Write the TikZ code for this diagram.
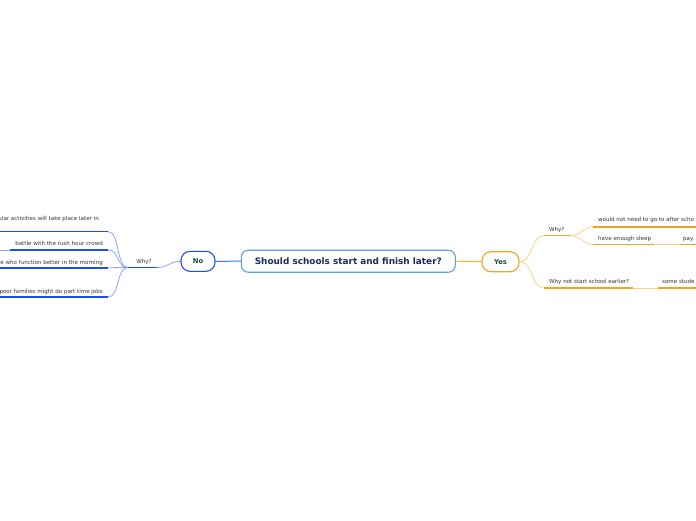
\documentclass[tikz,border=0pt]{standalone}
\usepackage{fontspec}
\setmainfont{DejaVu Sans}
\definecolor{cbord}{HTML}{5AA0E0}
\definecolor{navy}{HTML}{1C2A5A}
\definecolor{dgreen}{HTML}{1B4D3E}
\definecolor{bdark}{HTML}{1A4FE8}
\definecolor{blight}{HTML}{8AA6FF}
\definecolor{odark}{HTML}{F7A21B}
\definecolor{olight}{HTML}{FFD08A}
\definecolor{txt}{HTML}{333333}
\begin{document}
\begin{tikzpicture}[x=1pt,y=-1pt,
  mainbox/.style={draw=cbord, line width=1.1pt, rounded corners=7pt, fill=white,
    font=\fontsize{8.9}{10}\selectfont\bfseries, text=navy, minimum width=214pt, minimum height=22pt, inner sep=0pt},
  nobox/.style={draw=bdark, line width=1.1pt, rounded corners=9pt, fill=white,
    font=\fontsize{6.8}{8}\selectfont\bfseries, text=dgreen, minimum width=34pt, minimum height=20pt, inner sep=0pt},
  yesbox/.style={draw=odark, line width=1.1pt, rounded corners=9pt, fill=white,
    font=\fontsize{6.8}{8}\selectfont\bfseries, text=dgreen, minimum width=37pt, minimum height=20pt, inner sep=0pt},
  lbl/.style={font=\fontsize{5.55}{6.8}\selectfont, text=txt, inner sep=0pt},
  bul/.style={draw=bdark, line width=1.6pt},
  bcon/.style={draw=blight, line width=0.8pt},
  oul/.style={draw=odark, line width=1.6pt},
  ocon/.style={draw=olight, line width=0.8pt}]
\useasboundingbox (0,0) rectangle (696,520);
\clip (0,0) rectangle (696,520);

% central and first-level nodes
\node[mainbox] (c) at (348.3,261.2) {Should schools start and finish later?};
\node[nobox] (no) at (198,261.3) {No};
\node[yesbox] (yes) at (500.5,261.7) {Yes};
\draw[draw=bdark!80, line width=1pt] (c.west) -- (no.east);
\draw[draw=odark!85, line width=1pt] (c.east) -- (yes.west);

% ---------- left side ----------
\node[lbl, anchor=base] (lwhy) at (144,263) {Why?};
\coordinate (lwhyR) at (157,267.5);
\coordinate (lwhyL) at (128,267.5);
\draw[bul] (lwhyL) -- (lwhyR);
\draw[bcon] (no.west) .. controls (169,261.3) and (169,267.5) .. (lwhyR);

\node[lbl, anchor=base east] (l1) at (99,220.8) {ular activities will take place later in};
\coordinate (l1R) at (108,231.6);
\coordinate (l1L) at (0,231.6);
\draw[bul] (l1L) -- (l1R);

\node[lbl, anchor=base east] (l2) at (103,245.9) {battle with the rush hour crowd};
\coordinate (l2R) at (108,250);
\coordinate (l2L) at (10,250);
\coordinate (l2out) at (0,250);
\draw[bul] (l2L) -- (l2R);
\draw[bcon] (l2out) -- (l2L);

\node[lbl, anchor=base east] (l3) at (103,264.2) {e who function better in the morning};
\coordinate (l3R) at (108,267.7);
\coordinate (l3L) at (0,267.7);
\draw[bul] (l3L) -- (l3R);

\node[lbl, anchor=base east] (l4) at (103,293.2) {poor families might do part time jobs};
\coordinate (l4R) at (108,297);
\coordinate (l4L) at (0,297);
\draw[bul] (l4L) -- (l4R);

\draw[bcon] (lwhyL) .. controls (116,267.5) and (120,231.6) .. (l1R);
\draw[bcon] (lwhyL) .. controls (116,267.5) and (120,250) .. (l2R);
\draw[bcon] (lwhyL) -- (l3R);
\draw[bcon] (lwhyL) .. controls (116,267.5) and (120,297) .. (l4R);

% ---------- right side ----------
\node[lbl, anchor=base west] (rwhy) at (549,231) {Why?};
\coordinate (rwhyL) at (544,235.6);
\coordinate (rwhyR) at (570,235.6);
\draw[oul] (rwhyL) -- (rwhyR);
\draw[ocon] (yes.east) .. controls (533,261.7) and (531,235.6) .. (rwhyL);

\node[lbl, anchor=base west] (rnot) at (549,283.8) {Why not start school earlier?};
\coordinate (rnotL) at (544,288);
\coordinate (rnotR) at (633,288);
\draw[oul] (rnotL) -- (rnotR);
\draw[ocon] (yes.east) .. controls (533,261.7) and (531,288) .. (rnotL);

\node[lbl, anchor=base west] (r1) at (598,221.8) {would not need to go to after scho};
\coordinate (r1L) at (593,226.8);
\coordinate (r1R) at (696,226.8);
\draw[oul] (r1L) -- (r1R);

\node[lbl, anchor=base west] (r2) at (598,240) {have enough sleep};
\coordinate (r2L) at (593,244.3);
\coordinate (r2R) at (654,244.3);
\draw[oul] (r2L) -- (r2R);

\draw[ocon] (rwhyR) .. controls (582,235.6) and (582,226.8) .. (r1L);
\draw[ocon] (rwhyR) .. controls (582,235.6) and (582,244.3) .. (r2L);

\node[lbl, anchor=base west] (r3) at (683,240) {pay};
\coordinate (r3L) at (680,244.3);
\coordinate (r3R) at (696,244.3);
\draw[oul] (r3L) -- (r3R);
\draw[ocon] (r2R) -- (r3L);

\node[lbl, anchor=base west] (r4) at (662,283.8) {some stude};
\coordinate (r4L) at (658,288);
\coordinate (r4R) at (696,288);
\draw[oul] (r4L) -- (r4R);
\draw[ocon] (rnotR) -- (r4L);
\end{tikzpicture}
\end{document}
